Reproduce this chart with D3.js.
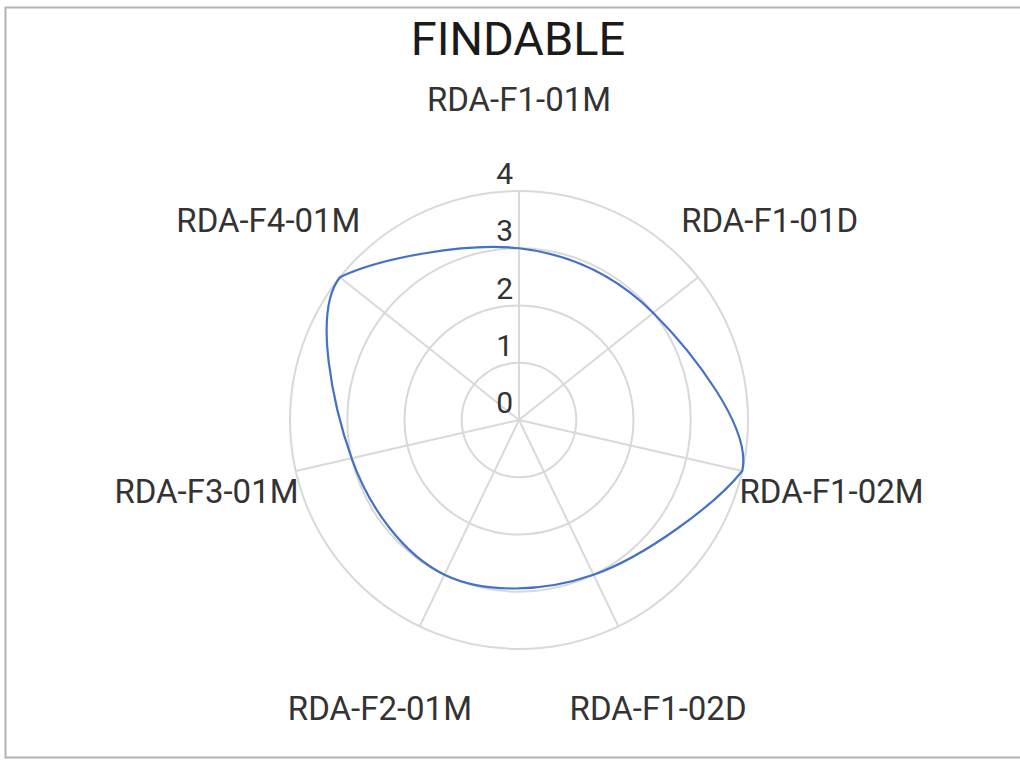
<!DOCTYPE html>
<meta charset="utf-8">
<style>
body { margin: 0; background: #fff; }
svg { display: block; font-family: Roboto, "Noto Sans", sans-serif; }
.grid circle { fill: none; stroke: #d9d9d9; stroke-width: 2px; }
.grid line { stroke: #d9d9d9; stroke-width: 2px; }
.ticks text { fill: #333; font-size: 30px; text-anchor: end; }
.labels text { fill: #333; font-size: 33px; text-anchor: middle; dominant-baseline: central; }
</style>
<body></body>
<script src="https://cdnjs.cloudflare.com/ajax/libs/d3/7.8.5/d3.min.js"></script>
<script>

var title = "FINDABLE";
var categories = ["RDA-F1-01M", "RDA-F1-01D", "RDA-F1-02M", "RDA-F1-02D",
                  "RDA-F2-01M", "RDA-F3-01M", "RDA-F4-01M"];
var values = [3, 3, 4, 3, 3, 3, 4];
var ticks = [0, 1, 2, 3, 4];

var width = 1020, height = 760;
var cx = 519, cy = 420;

var svg = d3.select("body").append("svg")
    .attr("width", width)
    .attr("height", height);

// frame (right edge is cut off in the original)
svg.append("path")
    .attr("d", "M1025,7.5H5.5V757.5H1025")
    .attr("fill", "none")
    .attr("stroke", "#b3b3b3")
    .attr("stroke-width", 2);

svg.append("text")
    .attr("x", 518)
    .attr("y", 55)
    .attr("text-anchor", "middle")
    .attr("font-size", 47)
    .attr("fill", "#1a1a1a")
    .text(title);

var r = d3.scaleLinear().domain([0, 4]).range([0, 229]);
var angle = d3.scaleLinear().domain([0, categories.length]).range([0, 2 * Math.PI]);

var g = svg.append("g").attr("transform", "translate(" + cx + "," + cy + ")");

var grid = g.append("g").attr("class", "grid");
grid.selectAll("circle")
  .data(ticks.filter(d => d > 0))
  .enter().append("circle")
    .attr("r", d => r(d));

grid.selectAll("line")
  .data(categories)
  .enter().append("line")
    .attr("x1", 0).attr("y1", 0)
    .attr("x2", (d, i) => r(4) * Math.sin(angle(i)))
    .attr("y2", (d, i) => -r(4) * Math.cos(angle(i)));

g.append("g").attr("class", "ticks")
  .selectAll("text")
  .data(ticks)
  .enter().append("text")
    .attr("x", -6)
    .attr("y", d => -r(d) - 7)
    .text(d => d);

function xy(v, i) { return [r(v) * Math.sin(angle(i)), -r(v) * Math.cos(angle(i))]; }

// catmull-rom style closed line; leaving a point on the outer ring,
// the handle is turned to run along the outer polygon edge
function smoothRadar(vals) {
  var k = 1 / 6, n = vals.length, top = d3.max(ticks);
  var pts = vals.map(xy);
  var path = d3.path();
  path.moveTo(pts[0][0], pts[0][1]);
  for (var i = 0; i < n; i++) {
    var p0 = pts[(i - 1 + n) % n], p1 = pts[i], p2 = pts[(i + 1) % n], p3 = pts[(i + 2) % n];
    var c1 = [p1[0] + (p2[0] - p0[0]) * k, p1[1] + (p2[1] - p0[1]) * k];
    if (vals[i] >= top) {
      var a = xy(top, (i + 1) % n), len = Math.hypot(p2[0] - p0[0], p2[1] - p0[1]) * k,
          ex = a[0] - p1[0], ey = a[1] - p1[1], el = Math.hypot(ex, ey);
      c1 = [p1[0] + ex / el * len, p1[1] + ey / el * len];
    }
    var c2 = [p2[0] - (p3[0] - p1[0]) * k, p2[1] - (p3[1] - p1[1]) * k];
    path.bezierCurveTo(c1[0], c1[1], c2[0], c2[1], p2[0], p2[1]);
  }
  path.closePath();
  return path.toString();
}

g.append("path")
    .attr("d", smoothRadar(values))
    .attr("fill", "none")
    .attr("stroke", "#4472c4")
    .attr("stroke-width", 2.2);

var labelR = r(4) * 1.4;
g.append("g").attr("class", "labels")
  .selectAll("text")
  .data(categories)
  .enter().append("text")
    .attr("x", (d, i) => labelR * Math.sin(angle(i)))
    .attr("y", (d, i) => -labelR * Math.cos(angle(i)))
    .text(d => d);

</script>
